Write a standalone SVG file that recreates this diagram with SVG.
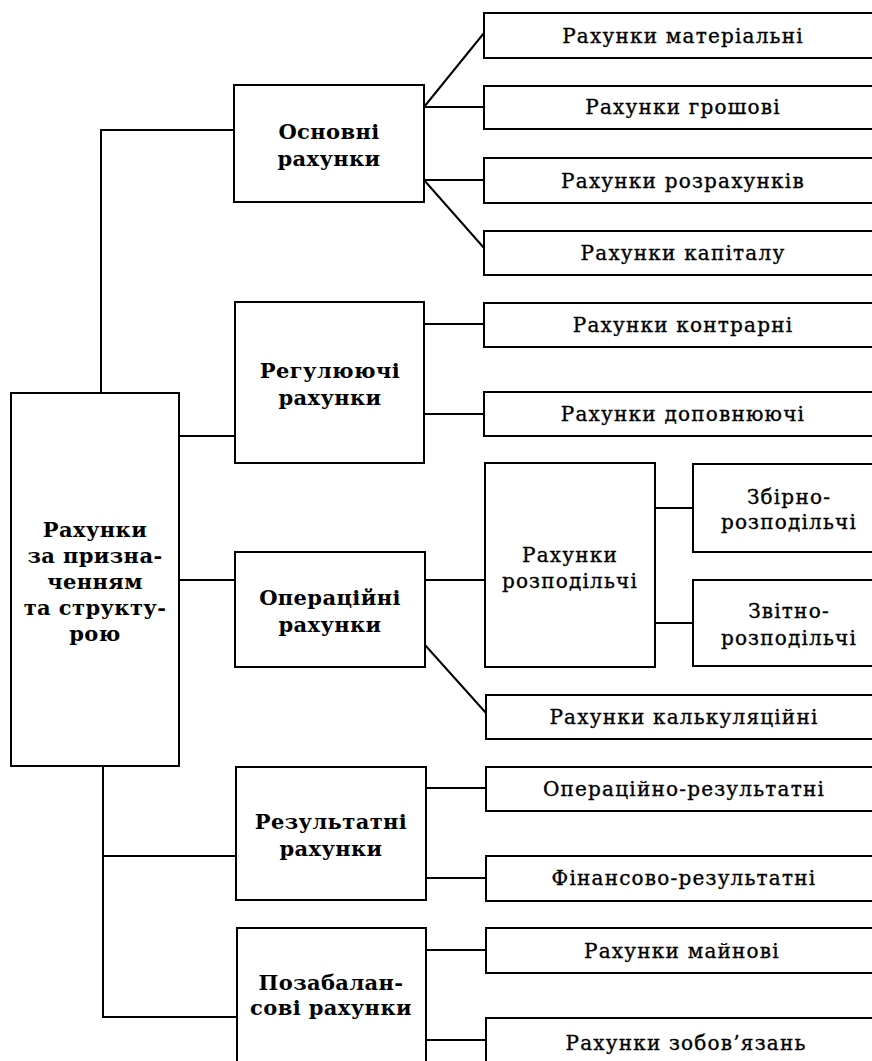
<svg xmlns="http://www.w3.org/2000/svg" width="872" height="1061" viewBox="0 0 872 1061">
  <style>
    .box { fill: #fff; stroke: #000; stroke-width: 2; }
    .wire { fill: none; stroke: #000; stroke-width: 2; }
    .t { font-family: "DejaVu Serif", "Liberation Serif", serif; fill: #000; text-anchor: middle; }
    .r { font-size: 20px; letter-spacing: 1.2px; stroke: #000; stroke-width: 0.35; }
    .b { font-size: 21px; font-weight: bold; letter-spacing: 0.4px; }
  </style>
  <rect width="872" height="1061" fill="#fff"/>

  <g id="connectors">
    <polyline class="wire" points="101,393 101,130 234,130"/>
    <polyline class="wire" points="103,766 103,1017 237,1017"/>
    <line class="wire" x1="103" y1="856" x2="236" y2="856"/>
    <line class="wire" x1="179" y1="436" x2="235" y2="436"/>
    <line class="wire" x1="179" y1="580" x2="235" y2="580"/>
    <line class="wire" x1="424" y1="107" x2="484" y2="33"/>
    <line class="wire" x1="424" y1="107" x2="484" y2="107"/>
    <line class="wire" x1="424" y1="180" x2="484" y2="180"/>
    <line class="wire" x1="424" y1="180" x2="484" y2="248"/>
    <line class="wire" x1="424" y1="324" x2="484" y2="324"/>
    <line class="wire" x1="424" y1="414" x2="484" y2="414"/>
    <line class="wire" x1="425" y1="580" x2="485" y2="580"/>
    <line class="wire" x1="425" y1="645" x2="486" y2="713"/>
    <line class="wire" x1="655" y1="508" x2="693" y2="508"/>
    <line class="wire" x1="655" y1="623" x2="693" y2="623"/>
    <line class="wire" x1="426" y1="788" x2="486" y2="788"/>
    <line class="wire" x1="426" y1="878" x2="486" y2="878"/>
    <line class="wire" x1="426" y1="950" x2="486" y2="950"/>
    <line class="wire" x1="426" y1="1040" x2="486" y2="1040"/>
  </g>

  <g id="root">
    <rect class="box" x="11" y="393" width="168" height="373"/>
    <text class="t b" x="95" y="537">Рахунки</text>
    <text class="t b" x="95" y="563">за призна-</text>
    <text class="t b" x="95" y="589">ченням</text>
    <text class="t b" x="95" y="615">та структу-</text>
    <text class="t b" x="95" y="641">рою</text>
  </g>

  <g id="osnovni">
    <rect class="box" x="234" y="85" width="190" height="117"/>
    <text class="t b" x="329" y="139">Основні</text>
    <text class="t b" x="329" y="166">рахунки</text>
  </g>
  <g id="materialni">
    <rect class="box" x="484" y="13" width="396" height="45"/>
    <text class="t r" x="683" y="43">Рахунки матеріальні</text>
  </g>
  <g id="groshovi">
    <rect class="box" x="484" y="86" width="396" height="43"/>
    <text class="t r" x="683" y="114">Рахунки грошові</text>
  </g>
  <g id="rozrakhunkiv">
    <rect class="box" x="484" y="158" width="396" height="45"/>
    <text class="t r" x="683" y="188">Рахунки розрахунків</text>
  </g>
  <g id="kapitalu">
    <rect class="box" x="484" y="231" width="396" height="44"/>
    <text class="t r" x="683" y="260">Рахунки капіталу</text>
  </g>

  <g id="rehuliuiuchi">
    <rect class="box" x="235" y="302" width="189" height="161"/>
    <text class="t b" x="330" y="378">Регулюючі</text>
    <text class="t b" x="330" y="405">рахунки</text>
  </g>
  <g id="kontrarni">
    <rect class="box" x="484" y="303" width="396" height="44"/>
    <text class="t r" x="683" y="332">Рахунки контрарні</text>
  </g>
  <g id="dopovniuiuchi">
    <rect class="box" x="484" y="392" width="396" height="44"/>
    <text class="t r" x="683" y="421">Рахунки доповнюючі</text>
  </g>

  <g id="operatsiini">
    <rect class="box" x="235" y="552" width="190" height="115"/>
    <text class="t b" x="330" y="605">Операційні</text>
    <text class="t b" x="330" y="632">рахунки</text>
  </g>
  <g id="rozpodilchi">
    <rect class="box" x="485" y="463" width="170" height="204"/>
    <text class="t r" x="570" y="562">Рахунки</text>
    <text class="t r" x="570" y="588">розподільчі</text>
  </g>
  <g id="zbirno">
    <rect class="box" x="693" y="464" width="187" height="88"/>
    <text class="t r" x="789" y="504">Збірно-</text>
    <text class="t r" x="789" y="529">розподільчі</text>
  </g>
  <g id="zvitno">
    <rect class="box" x="693" y="580" width="187" height="86"/>
    <text class="t r" x="789" y="618">Звітно-</text>
    <text class="t r" x="789" y="645">розподільчі</text>
  </g>
  <g id="kalkuliatsiini">
    <rect class="box" x="486" y="695" width="394" height="44"/>
    <text class="t r" x="684" y="724">Рахунки калькуляційні</text>
  </g>

  <g id="rezultatni">
    <rect class="box" x="236" y="767" width="190" height="133"/>
    <text class="t b" x="331" y="829">Результатні</text>
    <text class="t b" x="331" y="856">рахунки</text>
  </g>
  <g id="operatsiino-rezultatni">
    <rect class="box" x="486" y="767" width="394" height="44"/>
    <text class="t r" x="684" y="796">Операційно-результатні</text>
  </g>
  <g id="finansovo-rezultatni">
    <rect class="box" x="486" y="856" width="394" height="45"/>
    <text class="t r" x="684" y="885">Фінансово-результатні</text>
  </g>

  <g id="pozabalansovi">
    <rect class="box" x="237" y="928" width="189" height="150"/>
    <text class="t b" x="331" y="990">Позабалан-</text>
    <text class="t b" x="331" y="1015">сові рахунки</text>
  </g>
  <g id="mainovi">
    <rect class="box" x="486" y="928" width="394" height="45"/>
    <text class="t r" x="682" y="958">Рахунки майнові</text>
  </g>
  <g id="zoboviazan">
    <rect class="box" x="486" y="1018" width="394" height="60"/>
    <text class="t r" x="686" y="1050">Рахунки зобов’язань</text>
  </g>
</svg>
